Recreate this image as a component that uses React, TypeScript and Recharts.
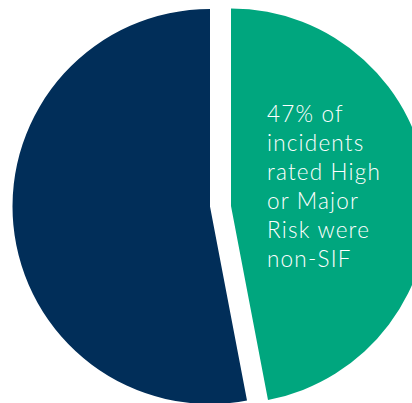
import { PieChart, Pie, Cell } from "recharts";

const categories = ["Non-SIF", "SIF"];
const shares = [47, 53];
const sliceColors = ["#00A67E", "#012E59"];
const calloutLines = ["47% of", "incidents", "rated High", "or Major", "Risk were", "non-SIF"];

const data = categories.map((name, i) => ({ name, value: shares[i] }));

export default function App() {
  return (
    <div style={{ position: "absolute", left: 0, top: 0, width: 412, height: 403, overflow: "hidden", background: "#fff" }}>
      <PieChart width={412} height={403} margin={{ top: 0, right: 0, bottom: 0, left: 0 }}>
        {/* exploded pie: each slice drawn from its own shifted centre */}
        <Pie
          data={data}
          dataKey="value"
          cx={210}
          cy={206.5}
          innerRadius={0}
          outerRadius={197.5}
          startAngle={90}
          endAngle={-270}
          stroke="none"
          isAnimationActive={false}
        >
          {data.map((d, i) => (
            <Cell key={d.name} fill={i === 1 ? sliceColors[1] : "transparent"} />
          ))}
        </Pie>
        <Pie
          data={data}
          dataKey="value"
          cx={231}
          cy={206}
          innerRadius={0}
          outerRadius={197.5}
          startAngle={90}
          endAngle={-270}
          stroke="none"
          isAnimationActive={false}
        >
          {data.map((d, i) => (
            <Cell key={d.name} fill={i === 0 ? sliceColors[0] : "transparent"} />
          ))}
        </Pie>
      </PieChart>
      <div
        style={{
          position: "absolute",
          left: 267,
          top: 99,
          color: "#fff",
          fontFamily: "Lato, 'Open Sans', sans-serif",
          fontWeight: 300,
          fontSize: 22.5,
          letterSpacing: 1.2,
          lineHeight: "29px",
          whiteSpace: "nowrap",
        }}
      >
        {calloutLines.map((line) => (
          <div key={line}>{line}</div>
        ))}
      </div>
    </div>
  );
}
